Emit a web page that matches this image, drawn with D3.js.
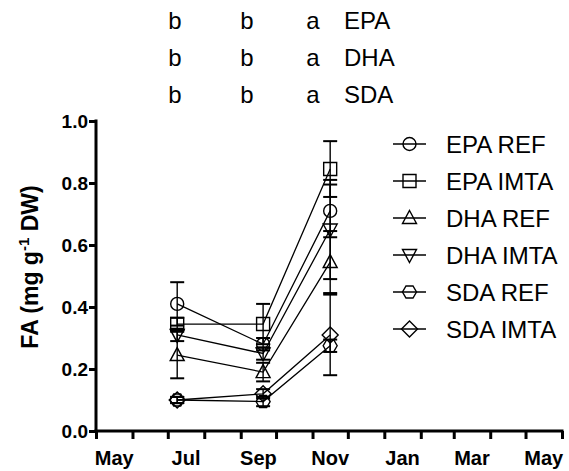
<!DOCTYPE html>
<html><head><meta charset="utf-8">
<script src="https://cdn.jsdelivr.net/npm/d3@7"></script>
<style>body{margin:0;background:#fff}svg{display:block}text{font-family:Arial,"Liberation Sans",sans-serif}</style>
</head><body>
<script>
const dates = ["2010-07-09","2010-09-20","2010-11-16"];
const seriesNames = ["EPA REF","EPA IMTA","DHA REF","DHA IMTA","SDA REF","SDA IMTA"];
const symbols = ["circle","square","triUp","triDown","hexagon","diamond"];
const epaRef = [0.41,0.28,0.71], epaRefErr = [0.07,0.02,0.085];
const epaImta = [0.345,0.345,0.845], epaImtaErr = [0.02,0.065,0.09];
const dhaRef = [0.245,0.19,0.545], dhaRefErr = [0.075,0.03,0.10];
const dhaImta = [0.31,0.25,0.65], dhaImtaErr = [0.02,0.02,0.16];
const sdaRef = [0.10,0.095,0.275], sdaRefErr = [0.01,0.015,0.02];
const sdaImta = [0.10,0.12,0.31], sdaImtaErr = [0.01,0.015,0.13];
const yTicks = [0,0.2,0.4,0.6,0.8,1.0];
const xLabels = ["May","Jul","Sep","Nov","Jan","Mar","May"];
const letterRows = [["b","b","a","EPA"],["b","b","a","DHA"],["b","b","a","SDA"]];

const values = [epaRef,epaImta,dhaRef,dhaImta,sdaRef,sdaImta];
const errs = [epaRefErr,epaImtaErr,dhaRefErr,dhaImtaErr,sdaRefErr,sdaImtaErr];
const parse = d3.timeParse("%Y-%m-%d");

const W=569,H=471;
const svg=d3.select("body").append("svg").attr("width",W).attr("height",H);
const x=d3.scaleTime().domain([new Date(2010,4,1),new Date(2011,5,1)]).range([96,562]);
const y=d3.scaleLinear().domain([0,1]).range([431,121]);

function symPath(type){
  if(type==="square"){const s=6.5;return `M${-s},${-s}H${s}V${s}H${-s}Z`;}
  if(type==="triUp"){return "M0,-7.5L7,5.5L-7,5.5Z";}
  if(type==="triDown"){return "M0,7.5L7,-5.5L-7,-5.5Z";}
  if(type==="hexagon"){const r=7;let s="";for(let i=0;i<6;i++){const a=Math.PI/3*i;s+=(i?"L":"M")+(r*Math.cos(a)).toFixed(2)+","+(r*Math.sin(a)).toFixed(2);}return s+"Z";}
  if(type==="diamond"){return "M0,-8L8,0L0,8L-8,0Z";}
}
function drawSym(g,type,cx,cy){
  if(type==="circle"){g.append("circle").attr("cx",cx).attr("cy",cy).attr("r",6.5).attr("fill","none").attr("stroke","#000").attr("stroke-width",1.4);}
  else g.append("path").attr("d",symPath(type)).attr("transform",`translate(${cx},${cy})`).attr("fill","none").attr("stroke","#000").attr("stroke-width",1.4);
}

// axes
const yAxis=d3.axisLeft(y).tickValues(yTicks).tickFormat(d3.format(".1f")).tickSize(7).tickSizeOuter(0);
const gy=svg.append("g").attr("transform","translate(96,0)").call(yAxis);
gy.select(".domain").attr("stroke-width",3).attr("d","M0,119.5V432.5");
gy.selectAll(".tick line").attr("stroke-width",3);
gy.selectAll(".tick text").attr("font-size",19).attr("font-weight","bold").attr("x",-8).attr("dy","0.36em");

const monthTicks=d3.timeMonth.range(new Date(2010,4,1),new Date(2011,5,2));
const xAxis=d3.axisBottom(x).tickValues(monthTicks).tickFormat("").tickSize(8).tickSizeOuter(0);
const gx=svg.append("g").attr("transform","translate(0,431)").call(xAxis);
gx.select(".domain").attr("stroke-width",3).attr("d","M94.5,0H563.5");
gx.selectAll(".tick line").attr("stroke-width",3);
const labelMonths=[0,2,4,6,8,10,12].map(i=>d3.timeMonth.offset(new Date(2010,4,1),i));
svg.append("g").selectAll("text").data(xLabels).join("text")
  .attr("x",(d,i)=>{const m=labelMonths[i];return (x(m)+x(d3.timeMonth.offset(m,1)))/2;})
  .attr("y",465).attr("text-anchor","middle").attr("font-size",20).attr("font-weight","bold").text(d=>d);

// y title
const yt=svg.append("text").attr("transform","translate(38,267) rotate(-90)").attr("text-anchor","middle")
  .attr("font-size",23).attr("font-weight","bold");
yt.append("tspan").text("FA (mg g");
yt.append("tspan").attr("font-size",15).attr("dy",-9).text("-1");
yt.append("tspan").attr("dy",9).text(" DW)");

// data
const line=d3.line().x(d=>x(d.t)).y(d=>y(d.v));
const dg=svg.append("g");
values.forEach((vals,s)=>{
  const pts=vals.map((v,i)=>({t:parse(dates[i]),v,e:errs[s][i]}));
  dg.append("path").attr("d",line(pts)).attr("fill","none").attr("stroke","#000").attr("stroke-width",1.3);
  pts.forEach(p=>{
    const cx=x(p.t);
    dg.append("line").attr("x1",cx).attr("x2",cx).attr("y1",y(p.v+p.e)).attr("y2",y(p.v-p.e)).attr("stroke","#000").attr("stroke-width",1.4);
    [p.v+p.e,p.v-p.e].forEach(v=>dg.append("line").attr("x1",cx-7).attr("x2",cx+7).attr("y1",y(v)).attr("y2",y(v)).attr("stroke","#000").attr("stroke-width",2));
  });
});
values.forEach((vals,s)=>{
  vals.forEach((v,i)=>drawSym(dg,symbols[s],x(parse(dates[i])),y(v)));
});

// legend
const lg=svg.append("g");
seriesNames.forEach((n,i)=>{
  const ly=144+i*37;
  lg.append("line").attr("x1",393).attr("x2",426).attr("y1",ly).attr("y2",ly).attr("stroke","#000").attr("stroke-width",1.4);
  drawSym(lg,symbols[i],409.5,ly);
  lg.append("text").attr("x",446).attr("y",ly).attr("dy","0.36em").attr("font-size",24).text(n);
});

// letters
const letterX=[175,247,313,344];
letterRows.forEach((row,r)=>{
  row.forEach((t,c)=>{
    svg.append("text").attr("x",letterX[c]).attr("y",20+r*37).attr("dy","0.36em")
      .attr("text-anchor",c<3?"middle":"start").attr("font-size",24).text(t);
  });
});
</script>
</body></html>
